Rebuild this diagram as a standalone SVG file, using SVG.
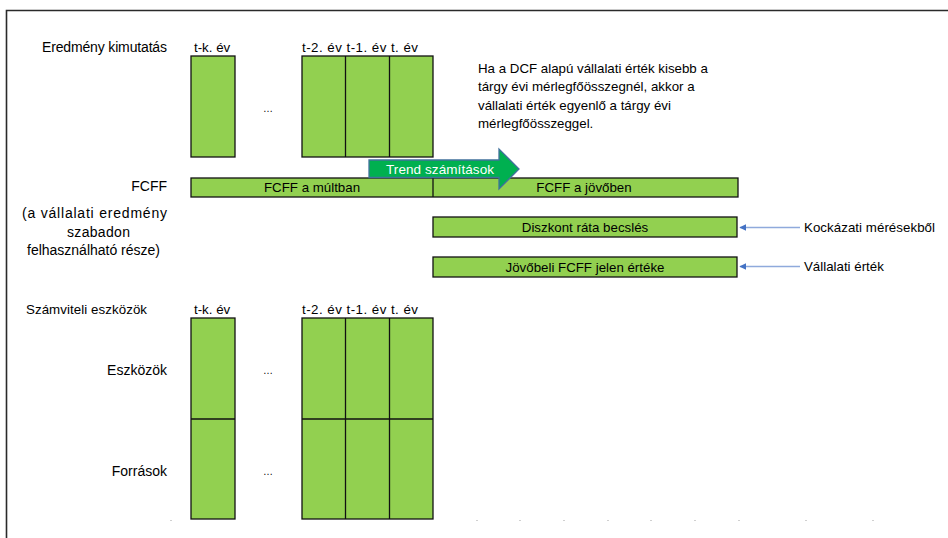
<svg xmlns="http://www.w3.org/2000/svg" width="948" height="538" viewBox="0 0 948 538">
<defs>
<style>
text{font-family:"Liberation Sans",Arial,sans-serif;font-size:13.3px;fill:#000}
.r{text-anchor:end}
.m{text-anchor:middle}
.lbl{font-size:14px}
.box{fill:#92D050;stroke:#111;stroke-width:1.3}
.div{stroke:#111;stroke-width:1.3}
.dots{font-size:10px}
.faint{fill:#d0d0d0}
.conn{stroke:#8FAADC;stroke-width:1.5;fill:none}
</style>
<marker id="ah" viewBox="0 0 10 10" refX="9" refY="5" markerWidth="7" markerHeight="7" markerUnits="userSpaceOnUse" orient="auto">
<path d="M0,0 L10,5 L0,10 Z" fill="#4472C4"/>
</marker>
</defs>
<rect width="948" height="538" fill="#fff"/>
<path d="M6.5,538 V10.5 H948" fill="none" stroke="#2a2a2a" stroke-width="1.6"/>

<g id="income-statement">
<text class="lbl" x="42" y="52" textLength="125">Eredmény kimutatás</text>
<text x="194" y="52">t-k. év</text>
<text x="302" y="52" textLength="116">t-2. év t-1. év t. év</text>
<rect class="box" x="191" y="56" width="44" height="101"/>
<text class="m dots" x="268" y="112">…</text>
<rect class="box" x="302" y="56" width="131" height="101"/>
<line class="div" x1="345.5" y1="56" x2="345.5" y2="157"/>
<line class="div" x1="389.5" y1="56" x2="389.5" y2="157"/>
</g>

<g id="note">
<text x="478" y="72.5">Ha a DCF alapú vállalati érték kisebb a</text>
<text x="478" y="91">tárgy évi mérlegfőösszegnél, akkor a</text>
<text x="478" y="109.5">vállalati érték egyenlő a tárgy évi</text>
<text x="478" y="128">mérlegfőösszeggel.</text>
</g>

<g id="fcff-label">
<text class="r lbl" x="167" y="191">FCFF</text>
<text class="lbl" x="22" y="218" textLength="145">(a vállalati eredmény</text>
<text class="lbl" x="67" y="236.5" textLength="63">szabadon</text>
<text class="lbl" x="27" y="255" textLength="133">felhasználható része)</text>
</g>

<g id="fcff-bar">
<rect class="box" x="191" y="178" width="547" height="19"/>
<line class="div" x1="433" y1="178" x2="433" y2="197"/>
<text class="m" x="312" y="192">FCFF a múltban</text>
<text class="m" x="584" y="192">FCFF a jövőben</text>
</g>

<g id="trend">
<path d="M369,160 H499 V149 L519,169 L499,189 V177.5 H369 Z" fill="#00B050" stroke="#41719C" stroke-width="1.3"/>
<text x="386" y="174" textLength="108" style="fill:#fff;font-size:13.5px">Trend számítások</text>
</g>

<g id="discount">
<rect class="box" x="433" y="217" width="304" height="20"/>
<text class="m" x="585" y="232">Diszkont ráta becslés</text>
</g>

<g id="present-value">
<rect class="box" x="433" y="257" width="304" height="20"/>
<text class="m" x="585" y="272">Jövőbeli FCFF jelen értéke</text>
</g>

<g id="risk">
<text x="804" y="232" textLength="131">Kockázati mérésekből</text>
</g>

<g id="company-value">
<text x="804" y="271">Vállalati érték</text>
</g>

<g id="connectors">
<line class="conn" x1="800" y1="227.5" x2="740" y2="227.5" marker-end="url(#ah)"/>
<line class="conn" x1="800" y1="266.5" x2="740" y2="266.5" marker-end="url(#ah)"/>
</g>

<g id="balance-sheet">
<text x="26" y="314" textLength="121">Számviteli eszközök</text>
<text x="194" y="314">t-k. év</text>
<text x="302" y="314" textLength="116">t-2. év t-1. év t. év</text>
<rect class="box" x="191" y="318" width="44" height="201"/>
<line class="div" x1="191" y1="419" x2="235" y2="419"/>
<rect class="box" x="302" y="318" width="131" height="201"/>
<line class="div" x1="345.5" y1="318" x2="345.5" y2="519"/>
<line class="div" x1="389.5" y1="318" x2="389.5" y2="519"/>
<line class="div" x1="302" y1="419" x2="433" y2="419"/>
<text class="r lbl" x="167" y="375">Eszközök</text>
<text class="m dots" x="268" y="374">…</text>
<text class="r lbl" x="167" y="476">Források</text>
<text class="m dots" x="268" y="475">…</text>
</g>

<g id="grid-marks">
<rect class="faint" x="170" y="520" width="2" height="1"/>
<rect class="faint" x="476" y="520" width="2" height="1"/>
<rect class="faint" x="519" y="520" width="2" height="1"/>
<rect class="faint" x="563" y="520" width="2" height="1"/>
<rect class="faint" x="607" y="520" width="2" height="1"/>
<rect class="faint" x="650" y="520" width="2" height="1"/>
<rect class="faint" x="694" y="520" width="2" height="1"/>
<rect class="faint" x="738" y="520" width="2" height="1"/>
<rect class="faint" x="805" y="520" width="2" height="1"/>
<rect class="faint" x="872" y="520" width="2" height="1"/>
</g>
</svg>
